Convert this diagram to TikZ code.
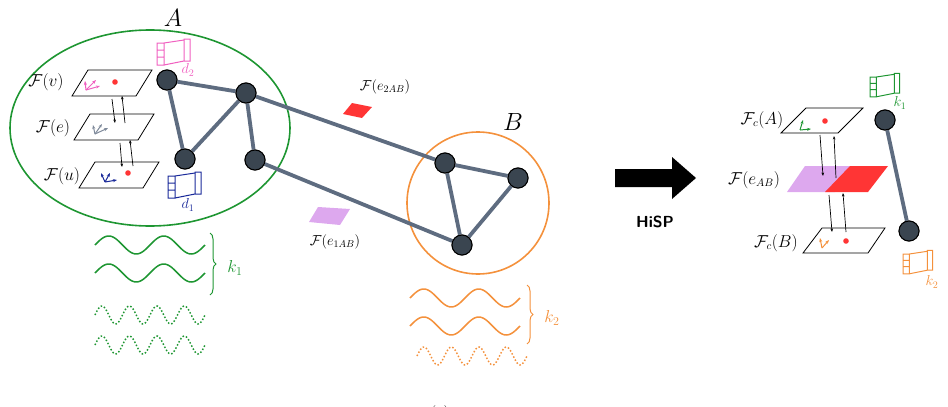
\documentclass[tikz,border=0pt]{standalone}
\usepackage{amsmath}
\usetikzlibrary{decorations.pathreplacing,arrows.meta,calc}
\definecolor{gA}{HTML}{1E9632}
\definecolor{oB}{HTML}{F4913C}
\definecolor{nf}{HTML}{3A4550}
\definecolor{ed}{HTML}{5E6C80}
\definecolor{pk}{HTML}{F060C0}
\definecolor{nv}{HTML}{1A2A9A}
\definecolor{rd}{HTML}{FF3535}
\definecolor{pu}{HTML}{DDA8EE}
\tikzset{
 gn/.style={circle,draw=black,fill=nf,minimum size=20pt,inner sep=0pt,line width=1pt},
 ge/.style={draw=ed,line width=3.8pt},
 lab/.style={font=\fontsize{16}{18}\selectfont,inner sep=1pt},
 slab/.style={font=\fontsize{14}{16}\selectfont,inner sep=1pt},
 pl/.style={draw=black,line width=0.8pt,fill=white},
 fr/.pic={\draw[line width=1pt] (0,0) rectangle (7,22) (0,7)--(7,7) (0,14)--(7,14) (7,0)--(27,-3) (7,22)--(27,18) (27,-4) rectangle (33,18);},
 wave/.style={line width=1.5pt},
 ax/.style={-{Stealth[length=4pt]},line width=1pt},
 sa/.style={-{Stealth[length=3.5pt]},line width=0.7pt},
}
\begin{document}
\begin{tikzpicture}[x=1pt,y=-1pt]
\useasboundingbox (0,0) rectangle (948,407);
\clip (0,0) rectangle (948,407);
% clusters
\draw[gA,line width=1.6pt] (150,128) ellipse (140 and 98);
\node[font=\fontsize{26}{28}\selectfont] (A) at (173,18) {$A$};
\draw[oB,line width=1.6pt] (478,203) circle (71);
\node[font=\fontsize{24}{26}\selectfont] (B) at (513,122) {$B$};
% graph
\node[gn] (n1) at (167,80) {};
\node[gn] (n2) at (246,93) {};
\node[gn] (n3) at (185,159) {};
\node[gn] (n4) at (255,160) {};
\node[gn] (b1) at (445,163) {};
\node[gn] (b2) at (518,178) {};
\node[gn] (b3) at (462,245) {};
\draw[ge] (n1)--(n2) (n1)--(n3) (n3)--(n2) (n2)--(n4) (n2)--(b1) (n4)--(b3) (b1)--(b2) (b1)--(b3) (b2)--(b3);
\foreach \n in {n1,n2,n3,n4,b1,b2,b3} \node[gn] at (\n) {};
% stalks A
\draw[pl] (88,70)--(152,70)--(136,96)--(72,96)--cycle;
\draw[pl] (90,114)--(154,114)--(138,140)--(74,140)--cycle;
\draw[pl] (95,162)--(159,162)--(143,188)--(79,188)--cycle;
\fill[rd] (115,82) circle (2.8);
\fill[rd] (128,173) circle (2.8);
\draw[pk,ax] (86,90)--(100,86); \draw[pk,ax] (86,90)--(85,81);\draw[pk,ax] (86,90)--(96,80);
\draw[ed!80,ax] (95,134)--(108,128);\draw[ed!80,ax] (95,134)--(93,125);\draw[ed!80,ax] (95,134)--(102,124);
\draw[nv,ax] (105,182)--(117,180);\draw[nv,ax] (105,182)--(101,173);\draw[nv,ax] (105,182)--(110,173);
\draw[sa] (112,99)--(115,123);
\draw[sa] (125,123)--(122,96);
\draw[sa] (120,143)--(122,167);
\draw[sa] (133,166)--(130,140);
\node[lab] (Fv) at (46,82) {$\mathcal{F}(v)$};
\node[lab] (Fe) at (53,128) {$\mathcal{F}(e)$};
\node[lab] (Fu) at (62,176) {$\mathcal{F}(u)$};
\pic[pk] at (157,43) {fr};
\node[pk,slab] (d2) at (188,70) {$d_2$};
\pic[nv] at (168,176) {fr};
\node[nv,slab] (d1) at (188,205) {$d_1$};
% edge stalks
\fill[rd] (352,103)--(372,107)--(362,118)--(343,114)--cycle;
\node[slab] (F2) at (385,87) {$\mathcal{F}(e_{2AB})$};
\fill[pu] (318,207)--(350,209)--(340,225)--(309,222)--cycle;
\node[slab] (F1) at (335,242) {$\mathcal{F}(e_{1AB})$};
% waves A
\foreach \yy in {245,273} \draw[gA,wave] plot[domain=0:110,samples=80,smooth] ({95+\x},{\yy-9*sin(\x/55*360)});
\foreach \yy in {315,345} \draw[gA,wave,dotted] plot[domain=0:110,samples=120,smooth] ({95+\x},{\yy-9*sin(\x/27.5*360)});
\draw[gA,line width=1pt,decorate,decoration={brace,amplitude=6pt}] (210,233)--(210,295);
\node[gA,font=\fontsize{18}{20}\selectfont] (k1) at (235,268) {$k_1$};
% waves B
\foreach \yy in {298,326} \draw[oB,wave] plot[domain=0:110,samples=80,smooth] ({410+\x},{\yy-9*sin(\x/55*360)});
\draw[oB,wave,dotted] plot[domain=0:110,samples=120,smooth] ({417+\x},{356-9*sin(\x/27.5*360)});
\draw[oB,line width=1pt,decorate,decoration={brace,amplitude=6pt}] (527,285)--(527,344);
\node[oB,font=\fontsize{18}{20}\selectfont] (k2) at (552,318) {$k_2$};
\node[lab] (cap) at (440,414) {(a)};
% big arrow
\fill (615,169)--(672,169)--(672,157)--(696,178)--(672,199)--(672,187)--(615,187)--cycle;
\node[font=\sffamily\bfseries\fontsize{16}{18}\selectfont] (H) at (655,222) {HiSP};
% right
\node[gn] (r1) at (885,120) {};
\node[gn] (r2) at (909,231) {};
\draw[ge] (r1)--(r2);
\foreach \n in {r1,r2} \node[gn] at (\n) {};
\draw[pl] (806,108)--(863,108)--(838,133)--(781,133)--cycle;
\fill[pu] (805,166)--(855,166)--(835,192)--(787,192)--cycle;
\fill[rd] (850,166)--(888,166)--(868,192)--(825,192)--cycle;
\draw[pl] (822,228)--(885,228)--(868,253)--(803,253)--cycle;
\fill[rd] (825,121) circle (2.8);
\fill[rd] (846,241) circle (2.8);
\draw[gA,ax] (800,130)--(811,129);\draw[gA,ax] (800,130)--(803,120);
\draw[oB,ax] (822,248)--(829,240);\draw[oB,ax] (822,248)--(820,238);
\draw[sa] (820,135)--(823,176);
\draw[sa] (836,178)--(834,136);
\draw[sa] (829,195)--(832,232);
\draw[sa] (846,232)--(843,193);
\node[lab] (FA) at (762,120) {$\mathcal{F}_c(A)$};
\node[lab] (FAB) at (754,180) {$\mathcal{F}(e_{AB})$};
\node[lab] (FB) at (776,243) {$\mathcal{F}_c(B)$};
\pic[gA,scale=0.9] at (870,77) {fr};
\node[gA,slab] (k1r) at (900,103) {$k_1$};
\pic[oB,scale=0.9] at (903,254) {fr};
\node[oB,slab] (k2r) at (932,282) {$k_2$};
\end{tikzpicture}
\end{document}
